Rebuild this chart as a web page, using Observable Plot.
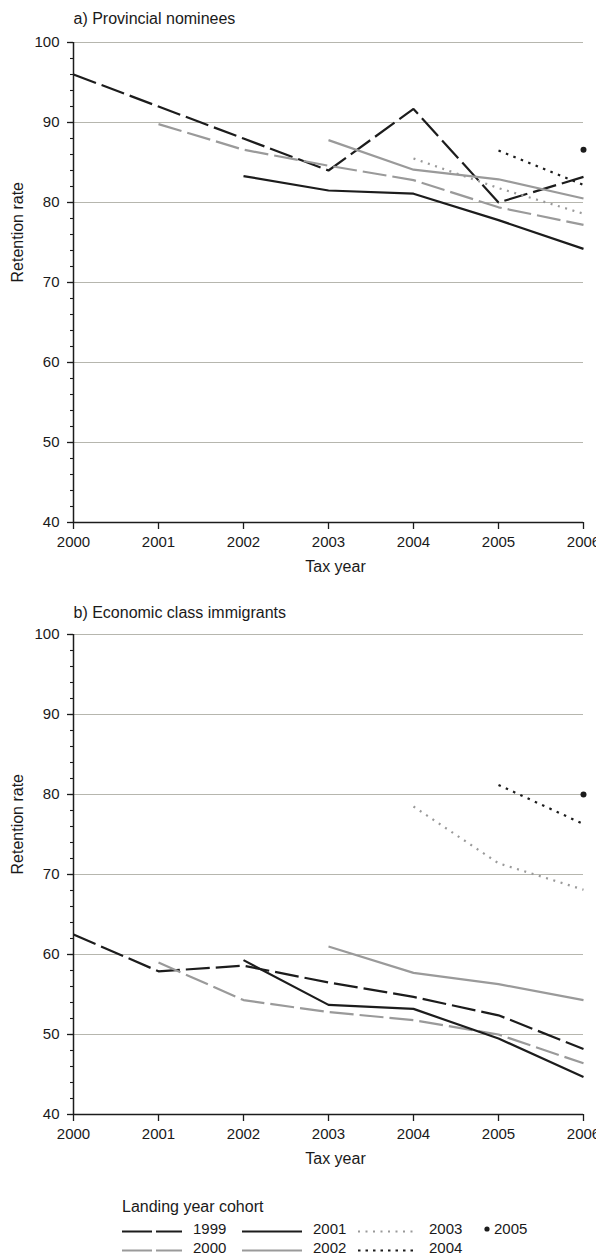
<!DOCTYPE html>
<html>
<head>
<meta charset="utf-8">
<script src="https://cdn.jsdelivr.net/npm/d3@7"></script>
<script src="https://cdn.jsdelivr.net/npm/@observablehq/plot@0.6"></script>
<style>
  html, body { margin: 0; padding: 0; background: #fff; overflow: hidden; }
  #chart { width: 596px; }
  #chart svg { display: block; }
</style>
</head>
<body>
<div id="chart"></div>
<script>
// Tax years on the x axis and landing year cohorts (one line each)
const taxYears = [2000, 2001, 2002, 2003, 2004, 2005, 2006];
const cohorts = [1999, 2000, 2001, 2002, 2003, 2004, 2005];

// Retention rate (%) by tax year; one row per landing year cohort
const nomineeRates = [
  [96.0, 92.0, 88.0, 84.0, 91.7, 80.0, 83.2],
  [null, 89.8, 86.6, 84.6, 82.8, 79.4, 77.2],
  [null, null, 83.3, 81.5, 81.1, 77.8, 74.2],
  [null, null, null, 87.8, 84.1, 82.9, 80.5],
  [null, null, null, null, 85.5, 81.8, 78.6],
  [null, null, null, null, null, 86.5, 82.2],
  [null, null, null, null, null, null, 86.6]
];
const economicRates = [
  [62.5, 57.9, 58.6, 56.5, 54.7, 52.4, 48.2],
  [null, 59.0, 54.3, 52.8, 51.8, 50.0, 46.4],
  [null, null, 59.3, 53.7, 53.2, 49.5, 44.7],
  [null, null, null, 61.0, 57.7, 56.3, 54.3],
  [null, null, null, null, 78.5, 71.4, 68.1],
  [null, null, null, null, null, 81.2, 76.3],
  [null, null, null, null, null, null, 80.0]
];
const yTicks = [40, 50, 60, 70, 80, 90, 100];
const yMinorTicks = d3.range(40, 101, 2);

const panelTitles = ["a) Provincial nominees", "b) Economic class immigrants"];
const legendTitle = "Landing year cohort";

// Line styles per cohort
const ink = "#1c1c1c";
const grey = "#9a9a9a";
const cohortStroke = [ink, grey, ink, grey, grey, ink, ink];
const cohortDash = ["24,6", "24,6", null, null, "2,5.6", "2.5,5.5", null];
const legendDash = ["30,4", "30,4", null, null, "2,5.5", "2.5,5", null];

const font = "'Liberation Sans', Arial, Helvetica, sans-serif";

function panel(rates, title, marginTop, marginBottom, titleBaseline) {
  const rows = [];
  rates.forEach((vals, i) => vals.forEach((v, j) => {
    if (v != null) rows.push({cohort: cohorts[i], year: taxYears[j], rate: v});
  }));

  const marks = [
    Plot.gridY(yTicks.slice(1), {stroke: "#b6b6ae", strokeOpacity: 1, strokeWidth: 1.2}),
    Plot.axisY(yMinorTicks, {tickSize: 3, text: null, label: null, strokeWidth: 1.1}),
    Plot.axisY(yTicks, {tickSize: 6, tickPadding: 8, tickFormat: "d", label: null, fontSize: 15, strokeWidth: 1.3}),
    Plot.axisX(taxYears, {tickSize: 7, tickPadding: 7, tickFormat: "d", label: null, fontSize: 15, strokeWidth: 1.3}),
    Plot.ruleX([2000], {stroke: ink, strokeWidth: 1.5}),
    Plot.ruleY([40], {stroke: ink, strokeWidth: 1.5})
  ];

  cohorts.forEach((c, i) => {
    const data = rows.filter(d => d.cohort === c);
    if (data.length > 1) {
      marks.push(Plot.line(data, {
        x: "year", y: "rate",
        stroke: cohortStroke[i], strokeWidth: 2.2,
        strokeDasharray: cohortDash[i],
        strokeLinecap: "butt", strokeLinejoin: "miter"
      }));
    } else {
      marks.push(Plot.dot(data, {x: "year", y: "rate", r: 3, fill: cohortStroke[i], stroke: null}));
    }
  });

  marks.push(
    Plot.text([title], {frameAnchor: "top-left", textAnchor: "start", lineAnchor: "bottom",
      dy: titleBaseline - marginTop, fontSize: 16, fill: "#1a1a1a"}),
    Plot.text(["Tax year"], {frameAnchor: "bottom", lineAnchor: "bottom", dx: 7, dy: 49,
      fontSize: 16, fill: "#1a1a1a"}),
    Plot.text(["Retention rate"], {frameAnchor: "left", lineAnchor: "top", rotate: -90, dx: -62,
      fontSize: 16, fill: "#1a1a1a"})
  );

  return Plot.plot({
    width: 596,
    height: marginTop + 480 + marginBottom,
    marginTop, marginBottom,
    marginLeft: 73, marginRight: 13,
    x: {type: "linear", domain: [2000, 2006]},
    y: {type: "linear", domain: [40, 100]},
    style: {fontFamily: font, fontSize: "15px", color: "#1a1a1a", background: "#fff", overflow: "visible"},
    marks
  });
}

// Legend: cohorts in columns of two, line samples drawn with the same styles
function legend() {
  const svg = d3.create("svg")
    .attr("width", 596).attr("height", 85)
    .attr("font-family", font)
    .attr("fill", "#1a1a1a");
  svg.append("text").attr("x", 122).attr("y", 42).attr("font-size", 16).text(legendTitle);
  const colX = [122, 242, 358, 487];
  const rowText = [64, 83];
  const rowLine = [61.5, 80.5];
  cohorts.forEach((c, i) => {
    const col = Math.floor(i / 2), row = i % 2;
    const g = svg.append("g");
    if (cohortDash[i] === null && i === cohorts.length - 1) {
      g.append("circle").attr("cx", colX[col]).attr("cy", rowText[row] - 5).attr("r", 2.6).attr("fill", cohortStroke[i]);
      g.append("text").attr("x", colX[col] + 7).attr("y", rowText[row]).attr("font-size", 15).text(c);
    } else {
      g.append("line")
        .attr("x1", colX[col]).attr("x2", colX[col] + 60)
        .attr("y1", rowLine[row]).attr("y2", rowLine[row])
        .attr("stroke", cohortStroke[i]).attr("stroke-width", 2.2)
        .attr("stroke-dasharray", legendDash[i]);
      g.append("text").attr("x", colX[col] + 71).attr("y", rowText[row]).attr("font-size", 15).text(c);
    }
  });
  return svg.node();
}

const root = document.getElementById("chart");
root.append(panel(nomineeRates, panelTitles[0], 42, 58, 23));
root.append(panel(economicRates, panelTitles[1], 54, 56, 37));
root.append(legend());
</script>
</body>
</html>
